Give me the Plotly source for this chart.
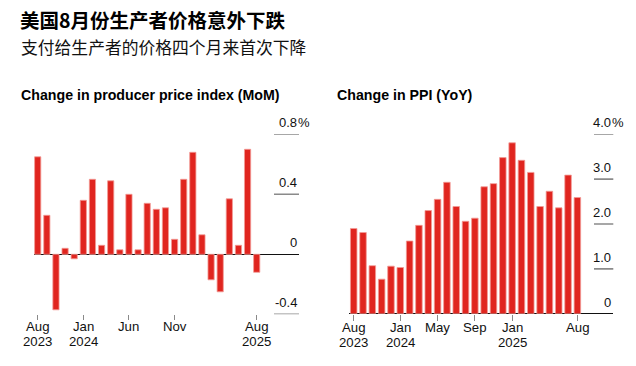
import plotly.graph_objects as go

# ---- data ----
months = ["2023-08", "2023-09", "2023-10", "2023-11", "2023-12",
          "2024-01", "2024-02", "2024-03", "2024-04", "2024-05", "2024-06",
          "2024-07", "2024-08", "2024-09", "2024-10", "2024-11", "2024-12",
          "2025-01", "2025-02", "2025-03", "2025-04", "2025-05", "2025-06",
          "2025-07", "2025-08"]
mom = [0.65, 0.26, -0.37, 0.04, -0.03, 0.36, 0.50, 0.06, 0.49, 0.03, 0.40,
       0.03, 0.34, 0.30, 0.31, 0.10, 0.50, 0.68, 0.13, -0.17, -0.25, 0.37,
       0.06, 0.70, -0.12]
yoy = [1.90, 1.81, 1.07, 0.77, 1.06, 1.03, 1.62, 1.97, 2.30, 2.55, 2.93,
       2.39, 2.06, 2.13, 2.83, 2.90, 3.48, 3.81, 3.42, 3.15, 2.39, 2.73,
       2.36, 3.09, 2.59]

left_tick_months = ["2023-08", "2024-01", "2024-06", "2024-11", "2025-08"]
left_tick_month_text = ["Aug", "Jan", "Jun", "Nov", "Aug"]
left_tick_year_text = ["2023", "2024", "", "", "2025"]
right_tick_months = ["2023-08", "2024-01", "2024-05", "2024-09", "2025-01", "2025-08"]
right_tick_month_text = ["Aug", "Jan", "May", "Sep", "Jan", "Aug"]
right_tick_year_text = ["2023", "2024", "", "", "2025", ""]

left_yticks = [-0.4, 0, 0.4, 0.8]
left_ylabels = ["-0.4", "0", "0.4", "0.8"]
right_yticks = [0, 1, 2, 3, 4]
right_ylabels = ["0", "1.0", "2.0", "3.0", "4.0"]

title = "美国8月份生产者价格意外下跌"
subtitle = "支付给生产者的价格四个月来首次下降"
left_title = "Change in producer price index (MoM)"
right_title = "Change in PPI (YoY)"

# ---- layout helpers ----
W, H = 636, 366
OFF = 0  # body margin removed below
FONT = "Liberation Sans, Arial, Noto Sans CJK SC, sans-serif"
CJK = "Noto Sans CJK SC, sans-serif"
RED = "#e0251f"
EDGE = "#f29a96"
GRID = "#8a8a8a"

def px_x(p):
    return (p - OFF) / W

def px_y(p):
    return 1 - (p - OFF) / H

idx = list(range(len(months)))
pos = {m: i for i, m in enumerate(months)}

fig = go.Figure()
fig.add_trace(go.Bar(x=idx, y=mom, marker=dict(color=RED, line=dict(color=EDGE, width=0.8)),
                     width=0.68, xaxis="x", yaxis="y", hoverinfo="skip"))
fig.add_trace(go.Bar(x=idx, y=yoy, marker=dict(color=RED, line=dict(color=EDGE, width=0.8)),
                     width=0.7, xaxis="x2", yaxis="y2", hoverinfo="skip"))

# left chart geometry (pixels)
L_x0, L_x1, L_c0, L_step = 34.0, 299.0, 37.7, 9.125
L_ytop, L_ybot = 134.3, 314.3
# right chart geometry
R_x0, R_x1, R_c0, R_step = 349.3, 613.3, 353.7, 9.32
R_ytop, R_ybot = 134.3, 313.7

tickfont = dict(family=FONT, size=13, color="#111")
xlabfont = dict(family=FONT, size=13.2, color="#111")

fig.update_layout(
    width=W, height=H, margin=dict(l=0, r=0, t=0, b=0, pad=0, autoexpand=False),
    paper_bgcolor="white", plot_bgcolor="white", showlegend=False,
    bargap=0, hovermode=False,
    xaxis=dict(domain=[px_x(L_x0), px_x(L_x1)],
               range=[-(L_c0 - L_x0) / L_step, (L_x1 - L_c0) / L_step],
               tickvals=[pos[m] for m in left_tick_months], showticklabels=False,
               ticks="outside", ticklen=5, tickcolor=GRID, tickwidth=1,
               showgrid=False, showline=False, zeroline=False,
               anchor="y", automargin=False),
    yaxis=dict(domain=[px_y(L_ybot), px_y(L_ytop)], range=[-0.4, 0.8],
               showticklabels=False, showgrid=False, zeroline=True,
               zerolinecolor="#111", zerolinewidth=1, anchor="x", automargin=False),
    xaxis2=dict(domain=[px_x(R_x0), px_x(R_x1)],
                range=[-(R_c0 - R_x0) / R_step, (R_x1 - R_c0) / R_step],
                tickvals=[pos[m] for m in right_tick_months], showticklabels=False,
                ticks="outside", ticklen=6, tickcolor=GRID, tickwidth=1,
                showgrid=False, showline=False, zeroline=False,
                anchor="y2", automargin=False),
    yaxis2=dict(domain=[px_y(R_ybot), px_y(R_ytop)], range=[0, 4],
                showticklabels=False, showgrid=False, zeroline=True,
                zerolinecolor="#111", zerolinewidth=1, anchor="x2", automargin=False),
)

shapes = []
annotations = []

def add_scale(xref, yref, ticks, labels, gx0):
    for v, lab in zip(ticks, labels):
        if v != 0:
            shapes.append(dict(type="line", xref=xref + " domain", yref=yref,
                               x0=gx0, x1=1, y0=v, y1=v,
                               line=dict(color=GRID, width=1.6)))
        annotations.append(dict(xref=xref + " domain", yref=yref, x=1, y=v,
                                xanchor="right", yanchor="bottom", yshift=2,
                                text=lab, showarrow=False, font=tickfont))
    top = max(ticks)
    annotations.append(dict(xref=xref + " domain", yref=yref, x=1, y=top,
                            xanchor="left", yanchor="bottom", yshift=2, xshift=-3,
                            text="%", showarrow=False, font=tickfont))

def add_xlabels(xref, tick_months, mtext, ytext, y_month, y_year):
    for m, mt, yt in zip(tick_months, mtext, ytext):
        annotations.append(dict(xref=xref, yref="paper", x=pos[m], y=px_y(y_month),
                                xanchor="center", yanchor="middle", text=mt, borderpad=0,
                                showarrow=False, font=xlabfont))
        if yt:
            annotations.append(dict(xref=xref, yref="paper", x=pos[m], y=px_y(y_year),
                                    xanchor="center", yanchor="middle", text=yt, borderpad=0,
                                    showarrow=False, font=xlabfont))

add_scale("x", "y", left_yticks, left_ylabels, (274 - L_x0) / (L_x1 - L_x0))
add_scale("x2", "y2", right_yticks, right_ylabels, (594 - R_x0) / (R_x1 - R_x0))
add_xlabels("x", left_tick_months, left_tick_month_text, left_tick_year_text, 326.5, 341.3)
add_xlabels("x2", right_tick_months, right_tick_month_text, right_tick_year_text, 327.5, 342.3)

annotations += [
    dict(xref="paper", yref="paper", x=px_x(19), y=px_y(20), xanchor="left", yanchor="middle",
         text="<b>" + title + "</b>", showarrow=False, borderpad=0,
         font=dict(family=CJK, size=19.5, color="#000")),
    dict(xref="paper", yref="paper", x=px_x(19), y=px_y(47.5), xanchor="left", yanchor="middle",
         text=subtitle, showarrow=False,
         font=dict(family=CJK, size=16.8, color="#111")),
    dict(xref="paper", yref="paper", x=px_x(19), y=px_y(95), xanchor="left", yanchor="middle",
         text="<b>" + left_title + "</b>", showarrow=False,
         font=dict(family=FONT, size=14.2, color="#000")),
    dict(xref="paper", yref="paper", x=px_x(335), y=px_y(95), xanchor="left", yanchor="middle",
         text="<b>" + right_title + "</b>", showarrow=False,
         font=dict(family=FONT, size=14.2, color="#000")),
]

fig.update_layout(shapes=shapes, annotations=annotations)
fig.write_html("out.html",
               config={"displayModeBar": False, "staticPlot": True},
               post_script="document.body.style.margin='0';document.body.style.overflow='hidden';")
